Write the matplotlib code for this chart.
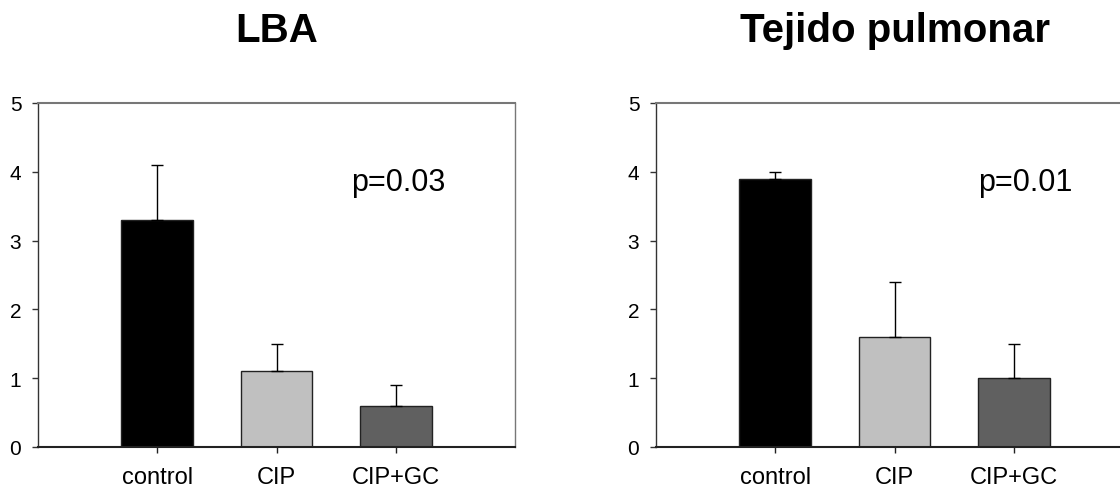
import matplotlib
matplotlib.use("Agg")
import matplotlib.pyplot as plt

plt.rcParams['font.family'] = ['Liberation Sans', 'DejaVu Sans']

categories = ["control", "CIP", "CIP+GC"]
lba_values = [3.3, 1.1, 0.6]
lba_errors = [0.8, 0.4, 0.3]
tejido_values = [3.9, 1.6, 1.0]
tejido_errors = [0.1, 0.8, 0.5]
titles = ["LBA", "Tejido pulmonar"]
pvalues = ["p=0.03", "p=0.01"]
yticks = [0, 1, 2, 3, 4, 5]
bar_colors = ["#000000", "#c0c0c0", "#606060"]

fig = plt.figure(figsize=(11.2, 4.89), dpi=100)
ax_w = 477 / 1120
ax_h = 344 / 489
bottom = 41 / 489
axes = [fig.add_axes([38 / 1120, bottom, ax_w, ax_h]),
        fig.add_axes([656 / 1120, bottom, ax_w, ax_h])]

datasets = [(lba_values, lba_errors, 2.02), (tejido_values, tejido_errors, 2.1)]
title_x = [(38 + 238.5) / 1120, (656 + 238.5) / 1120]

for ax, (vals, errs, px), title, ptxt, tx in zip(axes, datasets, titles, pvalues, title_x):
    x = list(range(len(categories)))
    ax.bar(x, vals, width=0.6, color=bar_colors, edgecolor="#222222", linewidth=1.0, zorder=2)
    ax.errorbar(x, vals, yerr=[[0] * len(errs), errs], fmt="none", ecolor="black",
                elinewidth=1.0, capsize=4, capthick=1.0, zorder=3)
    ax.set_xlim(-1, 3)
    ax.set_ylim(0, 5)
    ax.set_yticks(yticks)
    ax.set_yticklabels([str(t) for t in yticks], fontsize=15)
    ax.set_xticks(x)
    ax.set_xticklabels(categories, fontsize=17)
    ax.tick_params(axis="y", direction="out", length=4, width=1, pad=8, colors="#333333", labelcolor="black")
    ax.tick_params(axis="x", direction="out", length=4, width=1, pad=10, colors="#222222", labelcolor="black")
    ax.spines["left"].set_color("#333333")
    ax.spines["left"].set_linewidth(1.0)
    ax.spines["bottom"].set_color("#222222")
    ax.spines["bottom"].set_linewidth(1.5)
    ax.spines["top"].set_color("#777777")
    ax.spines["top"].set_linewidth(1.5)
    ax.spines["right"].set_color("#777777")
    ax.spines["right"].set_linewidth(1.0)
    ax.text(px, 3.85, ptxt, fontsize=22, ha="center", va="center")
    fig.text(tx, 1 - 31 / 489, title, fontsize=29, fontweight="bold", ha="center", va="center")

fig.savefig("out.png", dpi=100)
